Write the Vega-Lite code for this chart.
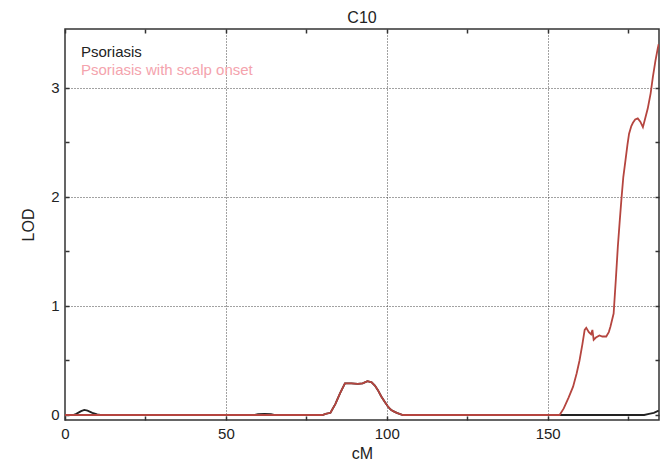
{
  "$schema": "https://vega.github.io/schema/vega-lite/v6.json",
  "autosize": "none",
  "width": 594,
  "height": 391,
  "padding": {"left": 65, "top": 29, "right": 1, "bottom": 40},
  "background": "white",
  "config": {
    "font": "Liberation Sans",
    "view": {"stroke": "#333333", "strokeWidth": 1.5},
    "title": {"fontSize": 16, "fontWeight": "normal", "color": "#222", "offset": 2}
  },
  "title": "C10",
  "data": {
    "values": [
      {"s": "Psoriasis", "cM": 0, "LOD": 0},
      {"s": "Psoriasis", "cM": 2.5, "LOD": 0},
      {"s": "Psoriasis", "cM": 3.5, "LOD": 0.01},
      {"s": "Psoriasis", "cM": 5, "LOD": 0.035},
      {"s": "Psoriasis", "cM": 6, "LOD": 0.046},
      {"s": "Psoriasis", "cM": 7, "LOD": 0.04},
      {"s": "Psoriasis", "cM": 8.5, "LOD": 0.02},
      {"s": "Psoriasis", "cM": 10, "LOD": 0.005},
      {"s": "Psoriasis", "cM": 11, "LOD": 0},
      {"s": "Psoriasis", "cM": 59, "LOD": 0},
      {"s": "Psoriasis", "cM": 60, "LOD": 0.008},
      {"s": "Psoriasis", "cM": 62, "LOD": 0.01},
      {"s": "Psoriasis", "cM": 64, "LOD": 0.008},
      {"s": "Psoriasis", "cM": 65, "LOD": 0},
      {"s": "Psoriasis", "cM": 80, "LOD": 0},
      {"s": "Psoriasis", "cM": 81, "LOD": 0.01},
      {"s": "Psoriasis", "cM": 82.5, "LOD": 0.02},
      {"s": "Psoriasis", "cM": 84, "LOD": 0.1},
      {"s": "Psoriasis", "cM": 85.5, "LOD": 0.2},
      {"s": "Psoriasis", "cM": 87, "LOD": 0.29},
      {"s": "Psoriasis", "cM": 89, "LOD": 0.29},
      {"s": "Psoriasis", "cM": 91, "LOD": 0.285},
      {"s": "Psoriasis", "cM": 92.5, "LOD": 0.29},
      {"s": "Psoriasis", "cM": 94, "LOD": 0.31},
      {"s": "Psoriasis", "cM": 95.3, "LOD": 0.3},
      {"s": "Psoriasis", "cM": 96.3, "LOD": 0.27},
      {"s": "Psoriasis", "cM": 97.2, "LOD": 0.23},
      {"s": "Psoriasis", "cM": 98.3, "LOD": 0.17},
      {"s": "Psoriasis", "cM": 99.4, "LOD": 0.12},
      {"s": "Psoriasis", "cM": 100.3, "LOD": 0.08},
      {"s": "Psoriasis", "cM": 101.2, "LOD": 0.05},
      {"s": "Psoriasis", "cM": 102, "LOD": 0.035},
      {"s": "Psoriasis", "cM": 103.1, "LOD": 0.02},
      {"s": "Psoriasis", "cM": 105, "LOD": 0},
      {"s": "Psoriasis", "cM": 180, "LOD": 0},
      {"s": "Psoriasis", "cM": 181.5, "LOD": 0.01},
      {"s": "Psoriasis", "cM": 183, "LOD": 0.02},
      {"s": "Psoriasis", "cM": 184.5, "LOD": 0.04},
      {"s": "Psoriasis with scalp onset", "cM": 0, "LOD": 0},
      {"s": "Psoriasis with scalp onset", "cM": 80, "LOD": 0},
      {"s": "Psoriasis with scalp onset", "cM": 81, "LOD": 0.01},
      {"s": "Psoriasis with scalp onset", "cM": 82.5, "LOD": 0.02},
      {"s": "Psoriasis with scalp onset", "cM": 84, "LOD": 0.1},
      {"s": "Psoriasis with scalp onset", "cM": 85.5, "LOD": 0.2},
      {"s": "Psoriasis with scalp onset", "cM": 87, "LOD": 0.29},
      {"s": "Psoriasis with scalp onset", "cM": 89, "LOD": 0.29},
      {"s": "Psoriasis with scalp onset", "cM": 91, "LOD": 0.285},
      {"s": "Psoriasis with scalp onset", "cM": 92.5, "LOD": 0.29},
      {"s": "Psoriasis with scalp onset", "cM": 94, "LOD": 0.31},
      {"s": "Psoriasis with scalp onset", "cM": 95.3, "LOD": 0.3},
      {"s": "Psoriasis with scalp onset", "cM": 96.3, "LOD": 0.27},
      {"s": "Psoriasis with scalp onset", "cM": 97.2, "LOD": 0.23},
      {"s": "Psoriasis with scalp onset", "cM": 98.3, "LOD": 0.17},
      {"s": "Psoriasis with scalp onset", "cM": 99.4, "LOD": 0.12},
      {"s": "Psoriasis with scalp onset", "cM": 100.3, "LOD": 0.08},
      {"s": "Psoriasis with scalp onset", "cM": 101.2, "LOD": 0.05},
      {"s": "Psoriasis with scalp onset", "cM": 102, "LOD": 0.035},
      {"s": "Psoriasis with scalp onset", "cM": 103.1, "LOD": 0.02},
      {"s": "Psoriasis with scalp onset", "cM": 105, "LOD": 0},
      {"s": "Psoriasis with scalp onset", "cM": 153.7, "LOD": 0},
      {"s": "Psoriasis with scalp onset", "cM": 155, "LOD": 0.06},
      {"s": "Psoriasis with scalp onset", "cM": 156.5, "LOD": 0.16},
      {"s": "Psoriasis with scalp onset", "cM": 157.9, "LOD": 0.26},
      {"s": "Psoriasis with scalp onset", "cM": 159, "LOD": 0.38},
      {"s": "Psoriasis with scalp onset", "cM": 159.9, "LOD": 0.5},
      {"s": "Psoriasis with scalp onset", "cM": 160.8, "LOD": 0.65},
      {"s": "Psoriasis with scalp onset", "cM": 161.5, "LOD": 0.78},
      {"s": "Psoriasis with scalp onset", "cM": 162, "LOD": 0.8},
      {"s": "Psoriasis with scalp onset", "cM": 162.8, "LOD": 0.76},
      {"s": "Psoriasis with scalp onset", "cM": 163.5, "LOD": 0.74},
      {"s": "Psoriasis with scalp onset", "cM": 163.9, "LOD": 0.78},
      {"s": "Psoriasis with scalp onset", "cM": 164.3, "LOD": 0.69},
      {"s": "Psoriasis with scalp onset", "cM": 165, "LOD": 0.71},
      {"s": "Psoriasis with scalp onset", "cM": 166.1, "LOD": 0.73},
      {"s": "Psoriasis with scalp onset", "cM": 167, "LOD": 0.72},
      {"s": "Psoriasis with scalp onset", "cM": 168.2, "LOD": 0.72},
      {"s": "Psoriasis with scalp onset", "cM": 169, "LOD": 0.76},
      {"s": "Psoriasis with scalp onset", "cM": 169.5, "LOD": 0.81},
      {"s": "Psoriasis with scalp onset", "cM": 170.5, "LOD": 0.93},
      {"s": "Psoriasis with scalp onset", "cM": 171.2, "LOD": 1.25},
      {"s": "Psoriasis with scalp onset", "cM": 171.8, "LOD": 1.54},
      {"s": "Psoriasis with scalp onset", "cM": 172.4, "LOD": 1.78},
      {"s": "Psoriasis with scalp onset", "cM": 172.9, "LOD": 1.97},
      {"s": "Psoriasis with scalp onset", "cM": 173.5, "LOD": 2.18},
      {"s": "Psoriasis with scalp onset", "cM": 174.2, "LOD": 2.34},
      {"s": "Psoriasis with scalp onset", "cM": 174.8, "LOD": 2.48},
      {"s": "Psoriasis with scalp onset", "cM": 175.3, "LOD": 2.58},
      {"s": "Psoriasis with scalp onset", "cM": 176, "LOD": 2.65},
      {"s": "Psoriasis with scalp onset", "cM": 176.5, "LOD": 2.68},
      {"s": "Psoriasis with scalp onset", "cM": 177.2, "LOD": 2.71},
      {"s": "Psoriasis with scalp onset", "cM": 178, "LOD": 2.72},
      {"s": "Psoriasis with scalp onset", "cM": 178.8, "LOD": 2.69},
      {"s": "Psoriasis with scalp onset", "cM": 179.6, "LOD": 2.64},
      {"s": "Psoriasis with scalp onset", "cM": 180.3, "LOD": 2.72},
      {"s": "Psoriasis with scalp onset", "cM": 181.1, "LOD": 2.81},
      {"s": "Psoriasis with scalp onset", "cM": 182, "LOD": 2.95},
      {"s": "Psoriasis with scalp onset", "cM": 182.7, "LOD": 3.1},
      {"s": "Psoriasis with scalp onset", "cM": 183.5, "LOD": 3.25},
      {"s": "Psoriasis with scalp onset", "cM": 184.2, "LOD": 3.36},
      {"s": "Psoriasis with scalp onset", "cM": 184.5, "LOD": 3.4}
    ]
  },
  "resolve": {"axis": {"x": "independent", "y": "independent"}},
  "layer": [
    {
      "mark": {"type": "line", "strokeWidth": 1.8, "clip": true},
      "encoding": {
        "x": {
          "field": "cM", "type": "quantitative",
          "scale": {"domain": [0, 184.6], "nice": false, "zero": false},
          "axis": {
            "title": "cM", "titleFontSize": 16, "titleFontWeight": "normal", "titleColor": "#222", "titlePadding": 4,
            "values": [0, 25, 50, 75, 100, 125, 150, 175],
            "labelExpr": "datum.value % 50 === 0 ? format(datum.value, 'd') : ''",
            "labelFontSize": 15, "labelColor": "#222", "labelPadding": 10, "labelFlush": false,
            "domain": false,
            "tickColor": "#333", "tickWidth": 1.5, "tickSize": -4,
            "grid": true, "gridColor": "#444", "gridDash": [1, 2], "gridWidth": 1,
            "gridOpacity": {"condition": {"test": "datum.value % 50 === 0 && datum.value > 0", "value": 1}, "value": 0}
          }
        },
        "y": {
          "field": "LOD", "type": "quantitative",
          "scale": {"domain": [-0.046, 3.54], "nice": false, "zero": false},
          "axis": {
            "title": "LOD", "titleFontSize": 16, "titleFontWeight": "normal", "titleColor": "#222", "titlePadding": 14,
            "values": [0, 0.5, 1, 1.5, 2, 2.5, 3],
            "labelExpr": "datum.value % 1 === 0 ? format(datum.value, 'd') : ''",
            "labelFontSize": 15, "labelColor": "#222", "labelPadding": 10, "labelFlush": false,
            "domain": false,
            "tickColor": "#333", "tickWidth": 1.5, "tickSize": -4,
            "grid": true, "gridColor": "#444", "gridDash": [1, 2], "gridWidth": 1,
            "gridOpacity": {"condition": {"test": "datum.value % 1 === 0 && datum.value > 0", "value": 1}, "value": 0}
          }
        },
        "color": {
          "field": "s", "type": "nominal",
          "scale": {"domain": ["Psoriasis", "Psoriasis with scalp onset"], "range": ["#222222", "#b5453f"]},
          "legend": {
            "title": null, "orient": "none", "legendX": 1, "legendY": 15,
            "symbolOpacity": 0, "symbolSize": 0, "labelOffset": 0, "labelFontSize": 15,
            "labelLimit": 400, "rowPadding": 2,
            "encode": {"labels": {"update": {"fill": {"signal": "datum.value === 'Psoriasis' ? '#222222' : '#f4a3ad'"}}}}
          }
        },
        "order": {"field": "s", "type": "nominal"}
      }
    },
    {
      "mark": {"type": "line", "opacity": 0, "clip": true},
      "encoding": {
        "x": {
          "field": "cM", "type": "quantitative",
          "axis": {
            "orient": "top", "title": null, "labels": false, "domain": false, "grid": false,
            "values": [0, 25, 50, 75, 100, 125, 150, 175],
            "tickColor": "#333", "tickWidth": 1.5, "tickSize": -4
          }
        },
        "y": {
          "field": "LOD", "type": "quantitative",
          "axis": {
            "orient": "right", "title": null, "labels": false, "domain": false, "grid": false,
            "values": [0, 0.5, 1, 1.5, 2, 2.5, 3],
            "tickColor": "#333", "tickWidth": 1.5, "tickSize": -4
          }
        },
        "detail": {"field": "s", "type": "nominal"}
      }
    }
  ]
}
